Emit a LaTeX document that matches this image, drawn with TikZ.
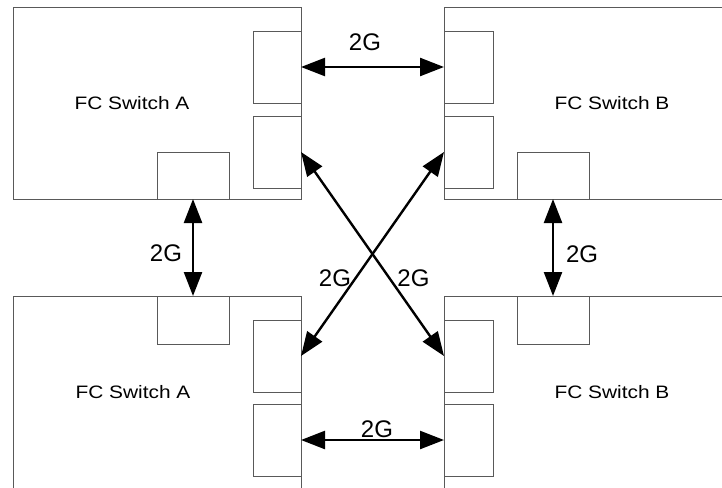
\documentclass[tikz,border=0pt]{standalone}
\usepackage{fontspec}
\setmainfont{Liberation Sans}
\newfontfamily\widefont[FakeStretch=1.16]{Liberation Sans}
\usetikzlibrary{arrows.meta}
\tikzset{
  box/.style={draw=black!65, line width=0.9pt, inner sep=0pt, outer sep=0pt, fill=white},
  swbox/.style={box, minimum width=#1, minimum height=220pt, anchor=north west},
  port/.style={box, minimum width=48pt, minimum height=72pt},
  hport/.style={box, minimum width=72pt, minimum height=48pt},
  link/.style={line width=2.4pt, {Triangle[length=24pt,width=18pt]}-{Triangle[length=24pt,width=18pt]}, shorten <=0pt, shorten >=0pt},
  swlabel/.style={font=\widefont\fontsize{18}{20}\selectfont, inner sep=0pt},
  lbl/.style={font=\fontsize{24}{26}\selectfont, inner sep=0pt}
}
\begin{document}
\begin{tikzpicture}[x=1pt,y=-1pt]
\clip (0,0) rectangle (722,487);
\fill[white] (0,0) rectangle (722,487);
% switches
\node[box, minimum width=288pt, minimum height=192pt, anchor=north west] (swA) at (13,7) {};
\node[box, minimum width=300pt, minimum height=192pt, anchor=north west] (swB) at (444,7) {};
\node[swbox=288pt] (swC) at (13,296) {};
\node[swbox=300pt] (swD) at (444,296) {};
% labels
\node[swlabel] (tA) at (132,103) {FC Switch A};
\node[swlabel] (tB) at (612,103) {FC Switch B};
\node[swlabel] (tC) at (133,392) {FC Switch A};
\node[swlabel] (tD) at (612,392) {FC Switch B};
% ports
\node[port] (a1) at (277,67) {};
\node[port] (a2) at (277,152) {};
\node[hport, minimum height=47pt] (a3) at (193,175.5) {};
\node[port, minimum width=49pt] (b1) at (468.5,67) {};
\node[port, minimum width=49pt] (b2) at (468.5,152) {};
\node[hport, minimum height=47pt] (b3) at (553,175.5) {};
\node[hport] (c3) at (193,320) {};
\node[port] (c1) at (277,356) {};
\node[port] (c2) at (277,440) {};
\node[hport] (d3) at (553,320) {};
\node[port, minimum width=49pt] (d1) at (468.5,356) {};
\node[port, minimum width=49pt] (d2) at (468.5,440) {};
% links
\draw[link] (a1.east) -- (b1.west);
\draw[link] (c2.east) -- (d2.west);
\draw[link] (a3.south) -- (c3.north);
\draw[link] (b3.south) -- (d3.north);
\draw[link] (a2.east) -- (d1.west);
\draw[link] (b2.west) -- (c1.east);
% link labels
\node[lbl] (l1) at (365,42.5) {2G};
\node[lbl] (l2) at (377,429) {2G};
\node[lbl] (l3) at (166,253) {2G};
\node[lbl] (l4) at (582,254) {2G};
\node[lbl] (l5) at (335,278) {2G};
\node[lbl] (l6) at (413.5,278) {2G};
\end{tikzpicture}
\end{document}
